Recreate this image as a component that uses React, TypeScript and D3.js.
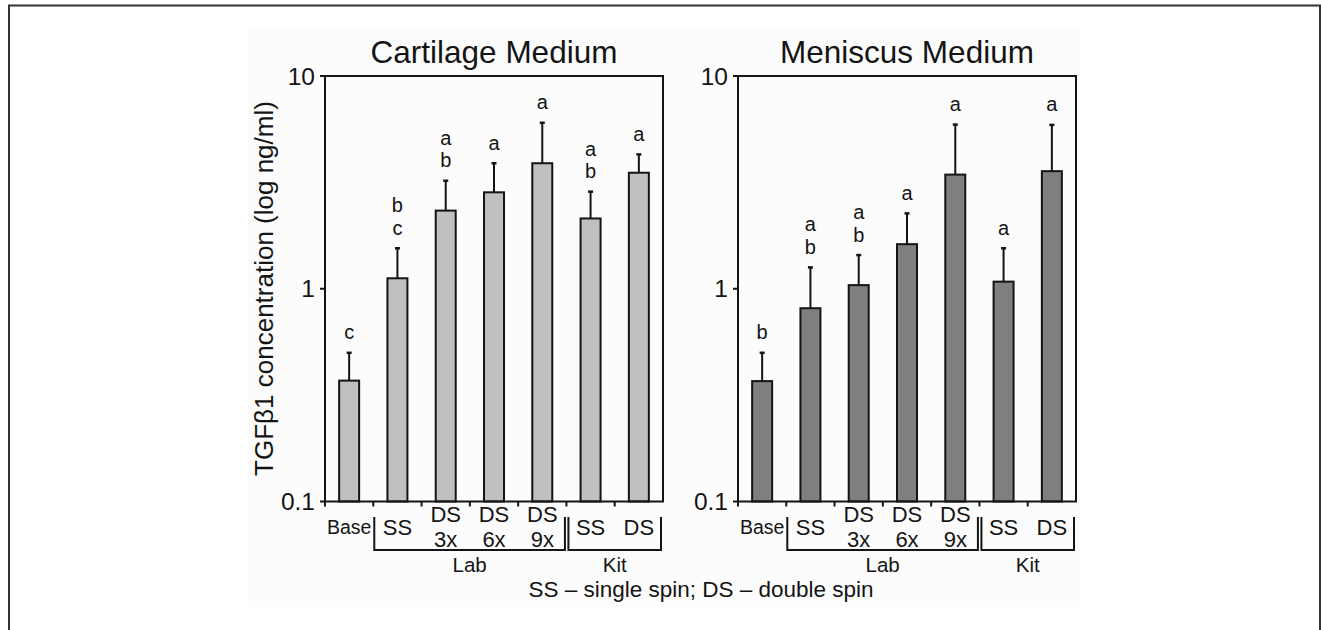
import React from "react";
import * as d3 from "d3";

const categories = ["Base", "SS", "DS 3x", "DS 6x", "DS 9x", "Kit SS", "Kit DS"];
const xLabelLines = [["Base"], ["SS"], ["DS", "3x"], ["DS", "6x"], ["DS", "9x"], ["SS"], ["DS"]];
const cartilageMeans = [0.37, 1.12, 2.33, 2.84, 3.89, 2.14, 3.51];
const cartilageUpper = [0.5, 1.55, 3.22, 3.89, 6.03, 2.86, 4.28];
const cartilageLetters = [["c"], ["b", "c"], ["a", "b"], ["a"], ["a"], ["a", "b"], ["a"]];
const meniscusMeans = [0.368, 0.81, 1.04, 1.62, 3.44, 1.08, 3.57];
const meniscusUpper = [0.5, 1.26, 1.44, 2.26, 5.91, 1.55, 5.89];
const meniscusLetters = [["b"], ["a", "b"], ["a", "b"], ["a"], ["a"], ["a"], ["a"]];
const yTicks = [0.1, 1, 10];
const groups = [
  { name: "Lab", from: 1, to: 4 },
  { name: "Kit", from: 5, to: 6 },
];
const FONT = "'Liberation Sans', Arial, Helvetica, sans-serif";
const INK = "#141414";

type PanelProps = {
  x0: number;
  x1: number;
  title: string;
  means: number[];
  upper: number[];
  letters: string[][];
  fill: string;
};

const Y_TOP = 76;
const Y_BOT = 501.5;

function Panel({ x0, x1, title, means, upper, letters, fill }: PanelProps) {
  const x = d3.scaleBand<number>().domain(categories.map((_, i) => i)).range([x0, x1]);
  const y = d3.scaleLog().domain([0.1, 10]).range([Y_BOT, Y_TOP]);
  const bw = x.bandwidth();
  const barW = bw * 0.414;
  const cx = (i: number) => (x(i) as number) + bw / 2;
  return (
    <g>
      <text x={(x0 + x1) / 2} y={63} textAnchor="middle" fontSize={31.5} fontFamily={FONT} fill={INK}>
        {title}
      </text>
      {means.map((m, i) => (
        <rect
          key={"b" + i}
          x={cx(i) - barW / 2}
          y={y(m)}
          width={barW}
          height={Y_BOT - y(m)}
          fill={fill}
          stroke={INK}
          strokeWidth={2}
        />
      ))}
      {means.map((m, i) => (
        <g key={"e" + i} stroke={INK} strokeWidth={2}>
          <line x1={cx(i)} x2={cx(i)} y1={y(m)} y2={y(upper[i])} />
          <line x1={cx(i) - 2.5} x2={cx(i) + 2.5} y1={y(upper[i])} y2={y(upper[i])} strokeWidth={2.5} />
        </g>
      ))}
      {letters.map((ls, i) =>
        ls.map((l, k) => {
          const base = y(upper[i]) - 19 - (ls.length - 1 - k) * 22.5;
          return (
            <text key={"l" + i + k} x={cx(i)} y={base + 5.5} textAnchor="middle" fontSize={20} fontFamily={FONT} fill={INK}>
              {l}
            </text>
          );
        })
      )}
      <rect x={x0} y={Y_TOP} width={x1 - x0} height={Y_BOT - Y_TOP} fill="none" stroke={INK} strokeWidth={2} />
      {yTicks.map((t) => (
        <g key={"yt" + t}>
          <line x1={x0 - 5} x2={x0} y1={y(t)} y2={y(t)} stroke={INK} strokeWidth={2} />
          <text x={x0 - 10} y={y(t) + 8.5} textAnchor="end" fontSize={24.5} fontFamily={FONT} fill={INK}>
            {t}
          </text>
        </g>
      ))}
      {categories.map((_, i) => (
        <line key={"xt" + i} x1={x(i) as number} x2={x(i) as number} y1={Y_BOT} y2={Y_BOT + 5} stroke={INK} strokeWidth={2} />
      ))}
      {xLabelLines.map((lines, i) =>
        lines.length === 1 ? (
          <text
            key={"xl" + i}
            x={cx(i)}
            y={i === 0 ? 533.5 : 535}
            textAnchor="middle"
            fontSize={i === 0 ? 19.5 : 22}
            fontFamily={FONT}
            fill={INK}
          >
            {lines[0]}
          </text>
        ) : (
          <text key={"xl" + i} textAnchor="middle" fontSize={22} fontFamily={FONT} fill={INK}>
            <tspan x={cx(i)} y={522}>
              {lines[0]}
            </tspan>
            <tspan x={cx(i)} y={547}>
              {lines[1]}
            </tspan>
          </text>
        )
      )}
      {groups.map((g, gi) => {
        const left = (x(g.from) as number) + (gi === 0 ? 1 : 2);
        const right = (x(g.to) as number) + bw - (gi === 0 ? 1.5 : 2);
        return (
          <g key={"g" + g.name}>
            <path d={`M${left},517V550H${right}V517`} fill="none" stroke={INK} strokeWidth={2} />
            <text x={(left + right) / 2} y={572} textAnchor="middle" fontSize={20.5} fontFamily={FONT} fill={INK}>
              {g.name}
            </text>
          </g>
        );
      })}
    </g>
  );
}

export default function App() {
  const W = 1321;
  const H = 630;
  return (
    <div style={{ position: "absolute", left: 0, top: 0 }}>
      <svg width={W} height={H} style={{ display: "block", background: "#ffffff" }}>
        <rect x={9} y={5.5} width={1311} height={700} fill="none" stroke="#333" strokeWidth={2} />
        <rect x={248} y={29} width={833} height={578} fill="#fcfcfc" />
        <Panel
          x0={325}
          x1={663}
          title="Cartilage Medium"
          means={cartilageMeans}
          upper={cartilageUpper}
          letters={cartilageLetters}
          fill="#c0c0c0"
        />
        <Panel
          x0={738}
          x1={1076}
          title="Meniscus Medium"
          means={meniscusMeans}
          upper={meniscusUpper}
          letters={meniscusLetters}
          fill="#7f7f7f"
        />
        <text transform={`translate(273,288.5) rotate(-90)`} textAnchor="middle" fontSize={26} fontFamily={FONT} fill={INK}>
          TGFβ1 concentration (log ng/ml)
        </text>
        <text x={701} y={597} textAnchor="middle" fontSize={22.5} fontFamily={FONT} fill={INK}>
          SS – single spin; DS – double spin
        </text>
      </svg>
    </div>
  );
}
